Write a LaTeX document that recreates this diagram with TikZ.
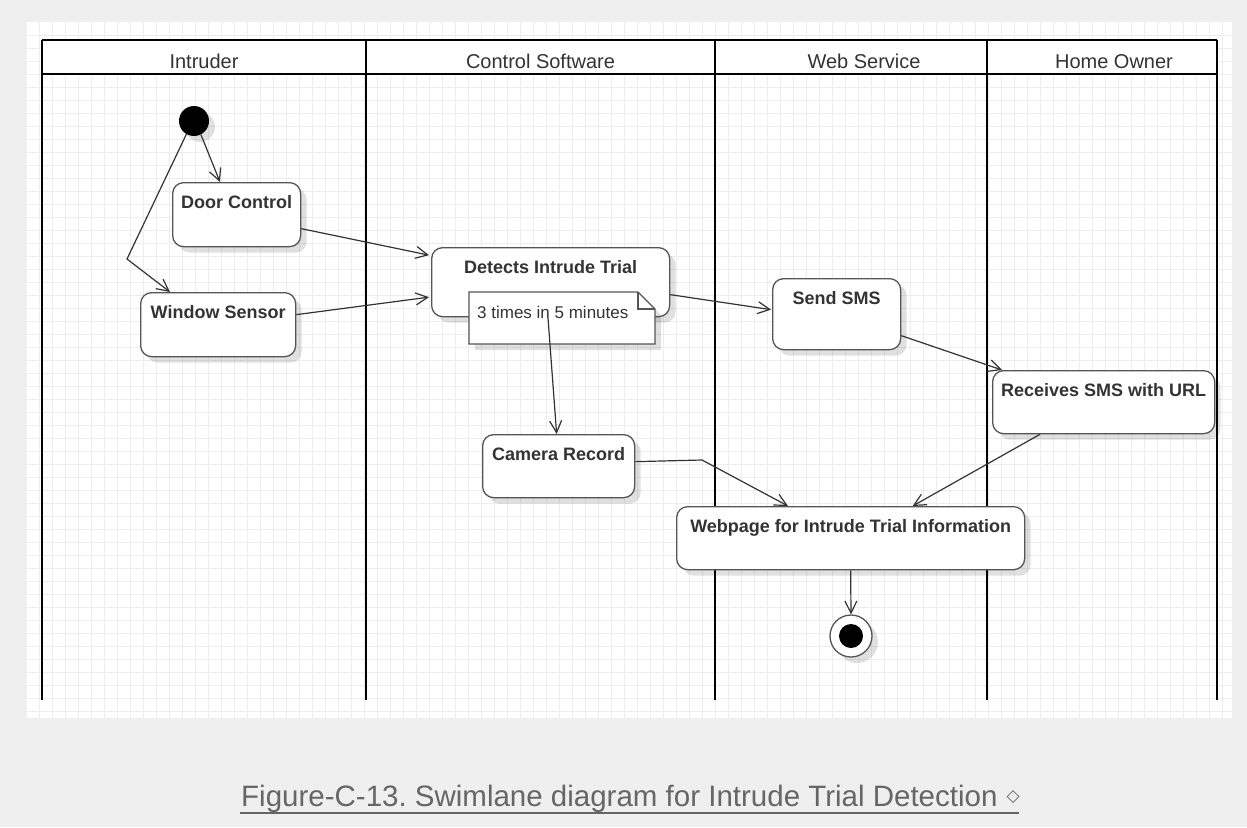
\documentclass[tikz,border=0pt]{standalone}
\usepackage{fontspec}
\setmainfont{Liberation Sans}
\newfontfamily\symfont{DejaVu Sans}
\usetikzlibrary{arrows.meta,calc,shadows}
\frenchspacing

\definecolor{pagebg}{HTML}{EFEFEF}
\definecolor{gridc}{HTML}{EDEDED}
\definecolor{boxline}{HTML}{555555}
\definecolor{inkc}{HTML}{333333}
\definecolor{capc}{HTML}{666666}

\tikzset{
  softshadow/.style={drop shadow={shadow xshift=6pt, shadow yshift=-6pt,
      fill=black, opacity=0.12, draw=none}},
  act/.style={draw=boxline, line width=1.3pt, fill=white, rounded corners=11pt,
      inner sep=0pt, text height=26pt, align=center, anchor=north west,
      font=\bfseries\fontsize{18}{20}\selectfont, text=inkc, softshadow},
  lanehead/.style={anchor=base, font=\fontsize{20}{24}\selectfont, text=inkc},
  lane/.style={draw=black, line width=2.5pt},
  flow/.style={draw=inkc, line width=1.2pt,
      -{Straight Barb[length=12pt, width=12pt, line width=1.2pt]}},
  notebox/.style={draw=boxline, line width=1.3pt, fill=white, line join=miter},
  notetext/.style={anchor=base west, inner sep=0pt,
      font=\fontsize{17}{20}\selectfont, text=inkc},
}

\begin{document}
\begin{tikzpicture}[x=1pt, y=-1pt]
  % page and drawing area
  \useasboundingbox (0,0) rectangle (1247,827);
  \fill[pagebg] (0,0) rectangle (1247,827);
  \fill[white] (27,22) rectangle (1232,718);
  \foreach \gx in {39,52,...,1222} \draw[gridc, line width=0.8pt] (\gx,22) -- (\gx,718);
  \foreach \gy in {35,48,...,711} \draw[gridc, line width=0.8pt] (27,\gy) -- (1232,\gy);

  % swimlanes
  \fill[white] (42,40) rectangle (1217,74);
  \foreach \lx in {42,366,715,987,1217} \draw[lane] (\lx,40) -- (\lx,700);
  \draw[lane] (42,40) -- (1217,40);
  \draw[lane] (42,74) -- (1217,74);
  \node[lanehead] (laneA) at (204,68) {Intruder};
  \node[lanehead] (laneB) at (540.5,68) {Control Software};
  \node[lanehead] (laneC) at (864,68) {Web Service};
  \node[lanehead] (laneD) at (1114,68) {Home Owner};

  % initial node
  \node[circle, fill=black, minimum size=30pt, inner sep=0pt, softshadow] (start) at (194,121) {};

  % activities
  \node[act, minimum width=128pt, text depth=38pt] (door)   at (172,182) {Door Control};
  \node[act, minimum width=155pt, text depth=38pt] (window) at (140,292) {Window Sensor};
  \node[act, minimum width=238pt, text depth=43pt] (detect) at (431,247) {Detects Intrude Trial};
  \node[act, minimum width=128pt, text depth=45pt] (send)   at (772,278) {Send SMS};
  \node[act, minimum width=222pt, text depth=37pt] (recv)   at (992,370) {Receives SMS with URL};
  \node[act, minimum width=152pt, text depth=37pt] (camera) at (482,434) {Camera Record};
  \node[act, minimum width=348pt, text depth=37pt] (web)    at (676,506) {Webpage for Intrude Trial Information};

  % note attached to the detection activity
  \filldraw[notebox, softshadow] (469,292) -- (638,292) -- (655,309) -- (655,344) -- (469,344) -- cycle;
  \draw[notebox, fill=none] (638,292) -- (638,309) -- (655,309);
  \node[notetext] (note) at (477,318) {3 times in 5 minutes};
  \coordinate (noteout) at (548,318);

  % final node
  \node[circle, draw=boxline, line width=1.3pt, fill=white, minimum size=42pt, inner sep=0pt, softshadow] (final) at (851,636) {};
  \node[circle, fill=black, minimum size=24pt, inner sep=0pt] (finaldot) at (final) {};

  % control flows
  \draw[flow] (start.-63) -- ($(door.north west)+(48,0)$);
  \coordinate (bend) at (127,259);
  \draw[flow] (start.-120) -- (bend) -- ($(window.north west)+(30,0)$);
  \draw[flow] ($(door.east)+(0,14)$) -- ($(detect.west)+(-2,-27)$);
  \draw[flow] ($(window.east)+(0,-10)$) -- ($(detect.west)+(-2,15)$);
  \draw[flow] ($(detect.east)+(0,12.5)$) -- ($(send.west)+(-1,-4.5)$);
  \draw[flow] ($(send.east)+(0,21.5)$) -- ($(recv.north west)+(10,0)$);
  \draw[flow] (noteout) -- ($(camera.north)+(-2,0)$);
  \coordinate (knee) at (702,460);
  \draw[flow] ($(camera.east)+(0,-4.5)$) -- (knee) -- ($(web.north west)+(112,0)$);
  \draw[flow] ($(recv.south west)+(48,0)$) -- ($(web.north)+(62,0)$);
  \draw[flow] (web.south) -- (final.north);

  % caption
  \node[anchor=base west, inner sep=0pt, font=\fontsize{29.5}{34}\selectfont, text=capc] (caption) at (241,806)
    {Figure-C-13. Swimlane diagram for Intrude Trial Detection\hspace{9pt}\raisebox{5pt}{\symfont\fontsize{17}{17}\selectfont ◇}};
  \draw[capc, line width=2pt] (240,813) -- (1019,813);
\end{tikzpicture}
\end{document}
